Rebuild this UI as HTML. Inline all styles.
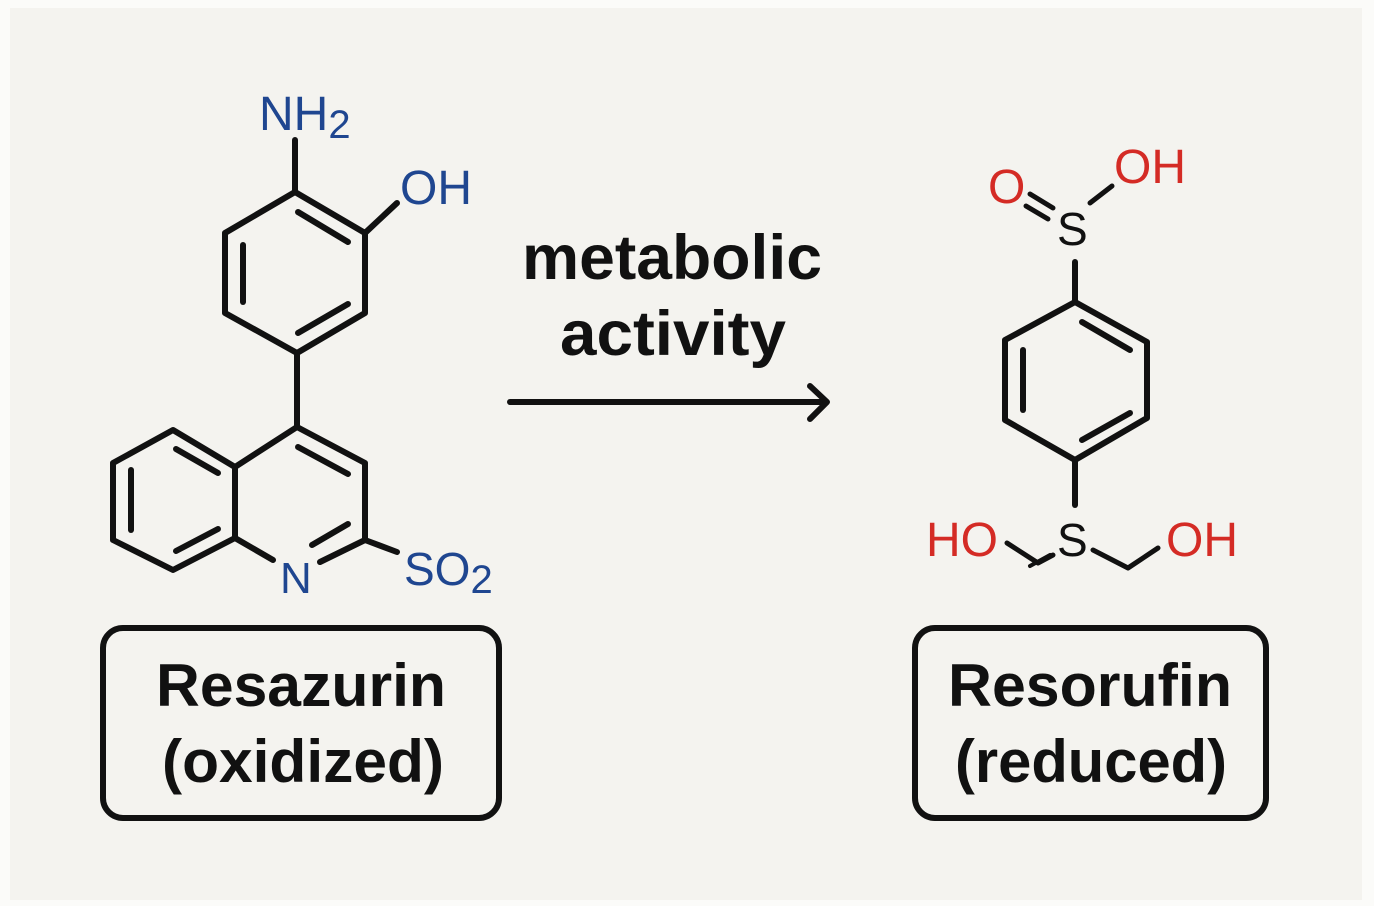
<!DOCTYPE html>
<html><head><meta charset="utf-8"><style>
html,body{margin:0;padding:0;background:#fff;}
svg{display:block;}
text{font-family:"Liberation Sans",sans-serif;}
</style></head><body>
<svg width="1374" height="906" viewBox="0 0 1374 906" xmlns="http://www.w3.org/2000/svg">
<rect x="0" y="0" width="1374" height="906" fill="#fbfbf9"/>
<rect x="10" y="8" width="1352" height="892" fill="#f4f3ef"/>
<g stroke="#111" stroke-width="6" fill="none" stroke-linecap="round" stroke-linejoin="round">
<line x1="295" y1="140" x2="295" y2="192"/>
<polygon points="295,192 365,233 365,313 297,353 225,313 225,233"/>
<line x1="298" y1="212" x2="348" y2="242"/>
<line x1="243" y1="245" x2="243" y2="302"/>
<line x1="298" y1="333" x2="348" y2="304"/>
<line x1="365" y1="233" x2="397" y2="203"/>
<line x1="297" y1="353" x2="297" y2="427"/>
<polyline points="235,467 297,427 365,463 365,540 320,562"/>
<line x1="298" y1="447" x2="348" y2="474"/>
<line x1="312" y1="545" x2="348" y2="524"/>
<line x1="365" y1="540" x2="397" y2="552"/>
<polyline points="273,560 235,538 235,467 173,430 113,463 113,540 173,570 235,538"/>
<line x1="176" y1="449" x2="218" y2="473"/>
<line x1="131" y1="470" x2="131" y2="530"/>
<line x1="176" y1="551" x2="218" y2="529"/>
<line x1="510" y1="402" x2="826" y2="402"/>
<polyline points="810,386 827,402 810,419"/>
<line x1="1075" y1="262" x2="1075" y2="302"/>
<polygon points="1075,302 1147,342 1147,418 1075,460 1005,420 1005,340"/>
<line x1="1082" y1="322" x2="1130" y2="350"/>
<line x1="1023" y1="350" x2="1023" y2="410"/>
<line x1="1082" y1="440" x2="1130" y2="413"/>
<line x1="1075" y1="460" x2="1075" y2="505"/>
<line x1="1030" y1="194" x2="1053" y2="208" stroke-width="5"/>
<line x1="1026" y1="206" x2="1048" y2="219" stroke-width="5"/>
<line x1="1090" y1="203" x2="1112" y2="186" stroke-width="5"/>
<polyline points="1007,543 1038,563 1053,555" stroke-width="5"/>
<line x1="1030" y1="566" x2="1050" y2="555" stroke-width="4"/>
<polyline points="1093,550 1128,568 1158,548" stroke-width="5"/>
<rect x="103" y="628" width="396" height="190" rx="20"/>
<rect x="915" y="628" width="351" height="190" rx="20"/>
</g>
<g font-weight="normal">
<text x="259" y="130" fill="#1f4690" font-size="48">NH<tspan font-size="40" dy="8">2</tspan></text>
<text x="400" y="204" fill="#1f4690" font-size="48">OH</text>
<text x="280" y="593" fill="#1f4690" font-size="44">N</text>
<text x="404" y="585" fill="#1f4690" font-size="46">SO<tspan font-size="40" dy="8">2</tspan></text>
<text x="988" y="203" fill="#d42b25" font-size="48">O</text>
<text x="1114" y="183" fill="#d42b25" font-size="48">OH</text>
<text x="1057" y="245" font-size="46" fill="#111">S</text>
<text x="926" y="556" fill="#d42b25" font-size="48">HO</text>
<text x="1057" y="556" font-size="46" fill="#111">S</text>
<text x="1166" y="556" fill="#d42b25" font-size="48">OH</text>
</g>
<g font-weight="bold" fill="#111" text-anchor="middle">
<text x="672" y="279" font-size="63" textLength="300" lengthAdjust="spacingAndGlyphs">metabolic</text>
<text x="673" y="355" font-size="63" textLength="226" lengthAdjust="spacingAndGlyphs">activity</text>
<text x="301" y="706" font-size="60" textLength="290" lengthAdjust="spacingAndGlyphs">Resazurin</text>
<text x="303" y="782" font-size="60" textLength="282" lengthAdjust="spacingAndGlyphs">(oxidized)</text>
<text x="1090" y="706" font-size="60" textLength="284" lengthAdjust="spacingAndGlyphs">Resorufin</text>
<text x="1091" y="782" font-size="60" textLength="272" lengthAdjust="spacingAndGlyphs">(reduced)</text>
</g>
</svg>
</body></html>
